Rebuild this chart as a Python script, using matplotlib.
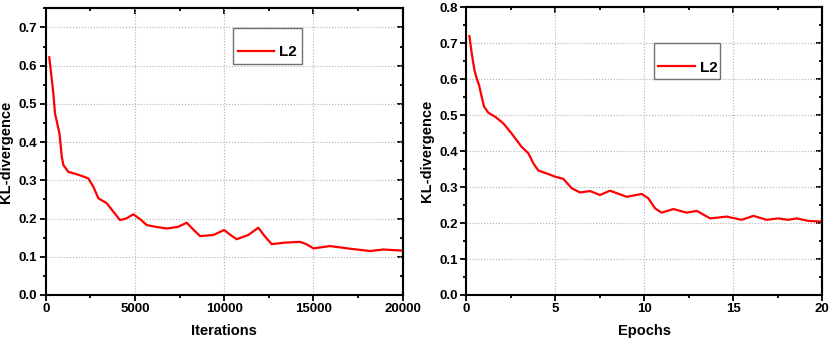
import numpy as np
import matplotlib.pyplot as plt
from matplotlib.ticker import MultipleLocator

plt.rcParams['font.family'] = ['Liberation Sans', 'DejaVu Sans']
plt.rcParams['font.weight'] = 'bold'

# left panel: KL-divergence vs iterations
iters = [200, 430, 520, 770, 900, 990, 1270, 1740, 2110, 2390, 2670, 2950, 3420,
         4160, 4500, 4910, 5300, 5660, 6200, 6780, 7400, 7900, 8250, 8650, 9390,
         10000, 10350, 10700, 11350, 11910, 12250, 12660, 13400, 14250, 14600,
         15000, 15930, 17050, 18170, 18920, 20000]
kl_iters = [0.622, 0.527, 0.475, 0.423, 0.362, 0.340, 0.322, 0.316, 0.310, 0.305,
            0.283, 0.253, 0.240, 0.196, 0.200, 0.211, 0.198, 0.183, 0.178, 0.174,
            0.178, 0.189, 0.172, 0.154, 0.157, 0.170, 0.157, 0.146, 0.157, 0.176,
            0.155, 0.133, 0.137, 0.139, 0.133, 0.122, 0.128, 0.121, 0.115, 0.119,
            0.116]

# right panel: KL-divergence vs epochs
epochs = [0.19, 0.32, 0.47, 0.60, 0.73, 0.88, 1.01, 1.25, 1.63, 2.10, 2.56, 3.12,
          3.50, 3.78, 4.06, 4.53, 5.00, 5.46, 5.93, 6.40, 6.96, 7.52, 8.08, 9.02,
          9.86, 10.23, 10.61, 10.98, 11.64, 12.38, 12.95, 13.70, 14.63, 15.47,
          16.13, 16.88, 17.53, 18.09, 18.56, 19.22, 20.0]
kl_epochs = [0.720, 0.672, 0.626, 0.602, 0.584, 0.551, 0.524, 0.507, 0.496, 0.477,
             0.449, 0.412, 0.394, 0.366, 0.346, 0.338, 0.329, 0.323, 0.297, 0.285,
             0.289, 0.278, 0.290, 0.273, 0.281, 0.269, 0.241, 0.229, 0.239, 0.229,
             0.234, 0.213, 0.218, 0.209, 0.220, 0.209, 0.213, 0.209, 0.213, 0.206,
             0.204]

fig = plt.figure(figsize=(8.31, 3.4), dpi=100)
ax1 = fig.add_axes([0.055, 0.1324, 0.4296, 0.843])
ax2 = fig.add_axes([0.5608, 0.1324, 0.4288, 0.846])


def set_locators(axis, major):
    axis.set_major_locator(MultipleLocator(major))
    axis.set_minor_locator(MultipleLocator(major / 2))


def style_axes(ax, xmax, xmajor, ymax, xlabel):
    ax.set_xlim(0, xmax)
    ax.set_ylim(0, ymax)
    set_locators(ax.xaxis, xmajor)
    set_locators(ax.yaxis, 0.1)
    ax.yaxis.set_major_formatter(plt.FormatStrFormatter('%.1f'))
    ax.tick_params(which='both', direction='out', width=1.3)
    ax.tick_params(which='major', length=4, labelsize=9.5, pad=2)
    ax.tick_params(which='minor', length=2.5)
    ax.grid(True, which='major', linestyle=':', color='#b0b0b0', linewidth=0.8)
    for s in ax.spines.values():
        s.set_linewidth(1.5)
    ax.set_xlabel(xlabel, fontsize=10.5, fontweight='bold', labelpad=6)
    ax.set_ylabel('KL-divergence', fontsize=10.5, fontweight='bold', labelpad=4)

    # mirrored ticks pointing inward on top and right
    top = ax.secondary_xaxis('top')
    set_locators(top.xaxis, xmajor)
    top.tick_params(which='both', direction='in', width=1.3, labeltop=False)
    top.tick_params(which='major', length=4)
    top.tick_params(which='minor', length=2.5)
    top.spines['top'].set_linewidth(1.5)
    right = ax.secondary_yaxis('right')
    set_locators(right.yaxis, 0.1)
    right.tick_params(which='both', direction='in', width=1.3, labelright=False)
    right.tick_params(which='major', length=4)
    right.tick_params(which='minor', length=2.5)
    right.spines['right'].set_linewidth(1.5)


ax1.plot(iters, kl_iters, color='red', linewidth=1.6, label='L2')
style_axes(ax1, 20000, 5000, 0.75, 'Iterations')
ax2.plot(epochs, kl_epochs, color='red', linewidth=1.6, label='L2')
style_axes(ax2, 20, 5, 0.8, 'Epochs')

for ax, anchor in [(ax1, (0.525, 0.806, 0.192, 0.122)),
                   (ax2, (0.527, 0.75, 0.187, 0.123))]:
    leg = ax.legend(loc='lower left', bbox_to_anchor=anchor, mode='expand',
                    borderaxespad=0, fancybox=False, framealpha=1,
                    edgecolor='#707070', fontsize=11, title=' ',
                    title_fontsize=4, handlelength=2.4, handletextpad=0.3,
                    borderpad=0.3)
    leg.get_frame().set_linewidth(1.0)

fig.savefig('out.png', dpi=100)
